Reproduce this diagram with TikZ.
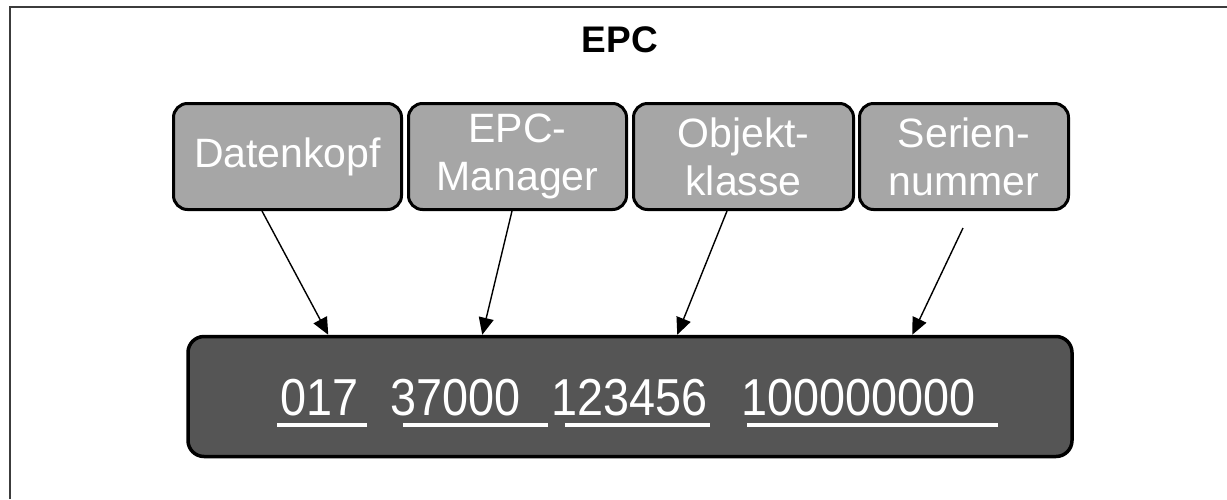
\documentclass[tikz,border=0pt]{standalone}
\usepackage{fontspec}
\setmainfont{Liberation Sans}
\usetikzlibrary{arrows.meta}
\definecolor{fieldgray}{HTML}{A6A6A6}
\definecolor{codegray}{HTML}{555555}
\definecolor{framegray}{HTML}{3C3C3C}
\newcommand{\narrow}[1]{\scalebox{0.9}[1]{#1}}
\tikzset{
  field/.style={draw=black, line width=3pt, fill=fieldgray, rounded corners=14pt,
    inner sep=0pt, minimum height=106pt, text=white, align=center,
    font=\fontsize{41}{48}\selectfont},
  codebar/.style={draw=black, line width=3.5pt, fill=codegray, rounded corners=16pt,
    inner sep=0pt},
  digits/.style={text=white, inner sep=0pt, anchor=base west,
    font=\fontsize{52}{58}\selectfont},
  uline/.style={white, line width=3.5pt},
  pointer/.style={line width=1.4pt, -{Triangle[length=17pt,width=15pt]}},
  frameline/.style={framegray, line width=2.5pt},
}
\begin{document}
\begin{tikzpicture}[x=1pt,y=-1pt]
\useasboundingbox (0,0) rectangle (1227,499);
% outer frame (left and top edges)
\draw[frameline] (10,499) -- (10,7) -- (1227,7);
% title
\node[font=\bfseries\fontsize{37}{44}\selectfont, anchor=base, inner sep=0pt] (title) at (620,52) {EPC};
% header fields
\node[field, minimum width=228pt] (kopf) at (287.5,156.5) {Datenkopf};
\node[field, minimum width=218pt] (mgr)  at (517.5,156.5) {EPC-\\Manager};
\node[field, minimum width=220pt] (obj)  at (743.5,156.5) {Objekt-\\klasse};
\node[field, minimum width=209pt] (ser)  at (964,156.5) {Serien-\\nummer};
% code bar
\node[codebar, minimum width=884pt, minimum height=120pt] (bar) at (630,396.5) {};
\node[digits] (n1) at (280,415) {\narrow{017}};
\node[digits] (n2) at (390,415) {\narrow{37000}};
\node[digits] (n3) at (551,415) {\narrow{123456}};
\node[digits] (n4) at (741,415) {\narrow{100000000}};
\draw[uline] (277,425) -- (367,425);
\draw[uline] (403,425) -- (548,425);
\draw[uline] (565,425) -- (710,425);
\draw[uline] (747,425) -- (998,425);
% pointers from fields to code groups
\draw[pointer] ([xshift=90pt]kopf.south west) -- ([xshift=142pt]bar.north west);
\draw[pointer] ([xshift=105pt]mgr.south west) -- ([xshift=296pt]bar.north west);
\draw[pointer] ([xshift=95pt]obj.south west) -- ([xshift=491pt]bar.north west);
\draw[pointer] ([xshift=105pt,yshift=-17pt]ser.south west) -- ([xshift=726pt]bar.north west);
\end{tikzpicture}
\end{document}
